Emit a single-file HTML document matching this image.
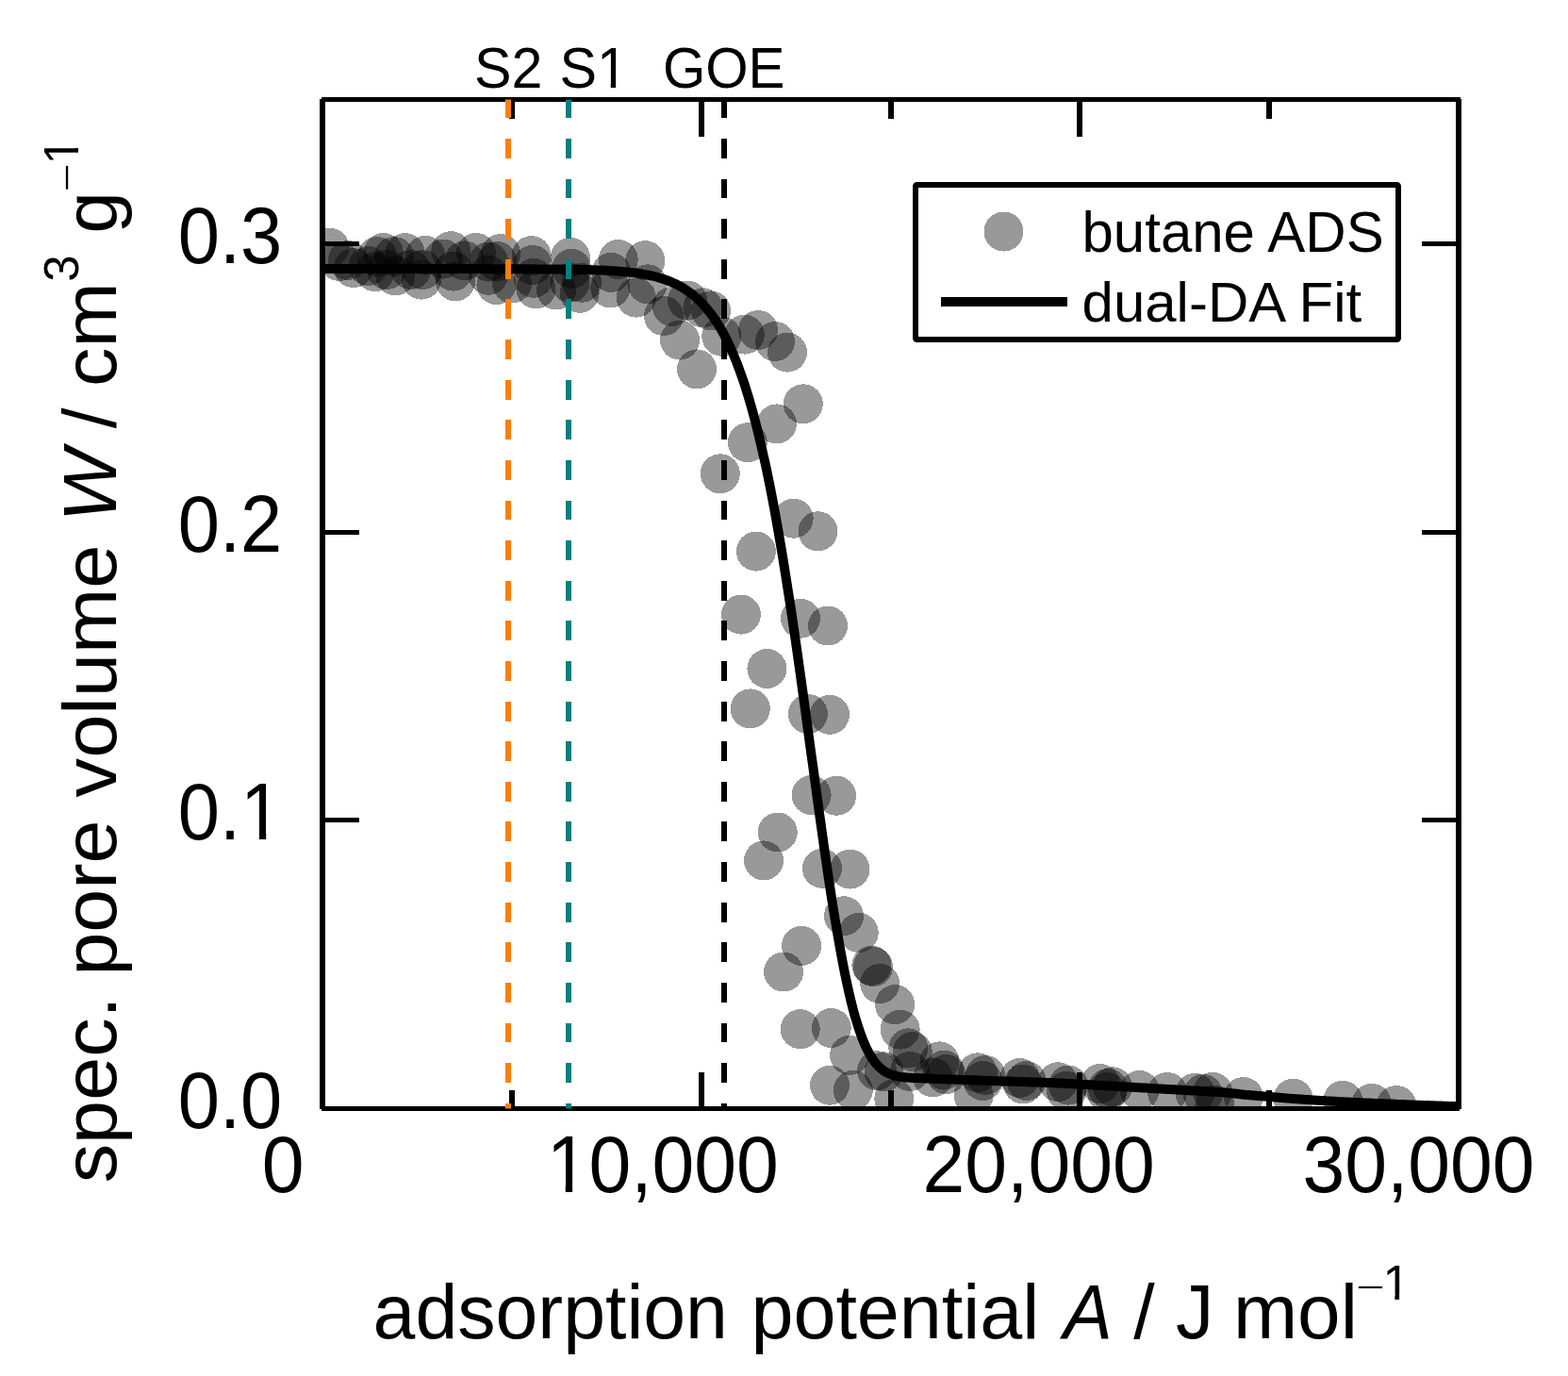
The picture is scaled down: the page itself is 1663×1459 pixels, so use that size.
<!DOCTYPE html>
<html><head><meta charset="utf-8"><title>dual-DA fit</title><style>
html,body{margin:0;padding:0;background:#fff;}
svg{display:block;}
text{font-family:"Liberation Sans", Arial, Helvetica, sans-serif;font-size:100px;fill:#000;}
</style></head><body>
<svg width="1663" height="1459" viewBox="0 0 1663 1459">
<rect x="0" y="0" width="1663" height="1459" fill="#fff"/>
<defs><clipPath id="ax"><rect x="342" y="105.5" width="1205" height="1070"/></clipPath></defs>

<g clip-path="url(#ax)">
<g fill="#000" fill-opacity="0.4" shape-rendering="crispEdges">
<circle cx="349.6" cy="262.6" r="21.0"/>
<circle cx="360.0" cy="277.0" r="21.0"/>
<circle cx="369.0" cy="276.0" r="21.0"/>
<circle cx="375.0" cy="284.0" r="21.0"/>
<circle cx="390.5" cy="282.0" r="21.0"/>
<circle cx="397.7" cy="288.2" r="21.0"/>
<circle cx="400.0" cy="272.0" r="21.0"/>
<circle cx="406.7" cy="268.0" r="21.0"/>
<circle cx="410.0" cy="286.0" r="21.0"/>
<circle cx="418.0" cy="272.0" r="21.0"/>
<circle cx="419.4" cy="292.4" r="21.0"/>
<circle cx="429.6" cy="268.2" r="21.0"/>
<circle cx="436.0" cy="286.0" r="21.0"/>
<circle cx="447.0" cy="296.6" r="21.0"/>
<circle cx="448.0" cy="286.0" r="21.0"/>
<circle cx="451.0" cy="270.7" r="21.0"/>
<circle cx="470.0" cy="274.6" r="21.0"/>
<circle cx="478.3" cy="266.2" r="21.0"/>
<circle cx="480.7" cy="287.6" r="21.0"/>
<circle cx="483.0" cy="298.4" r="21.0"/>
<circle cx="492.7" cy="276.4" r="21.0"/>
<circle cx="504.8" cy="268.0" r="21.0"/>
<circle cx="518.0" cy="277.6" r="21.0"/>
<circle cx="518.0" cy="291.8" r="21.0"/>
<circle cx="526.4" cy="302.0" r="21.0"/>
<circle cx="531.0" cy="269.0" r="21.0"/>
<circle cx="527.2" cy="277.0" r="21.0"/>
<circle cx="543.0" cy="300.5" r="21.0"/>
<circle cx="563.6" cy="271.2" r="21.0"/>
<circle cx="564.7" cy="280.9" r="21.0"/>
<circle cx="565.9" cy="294.8" r="21.0"/>
<circle cx="568.4" cy="306.4" r="21.0"/>
<circle cx="590.0" cy="307.5" r="21.0"/>
<circle cx="604.9" cy="272.9" r="21.0"/>
<circle cx="606.3" cy="284.9" r="21.0"/>
<circle cx="604.5" cy="299.7" r="21.0"/>
<circle cx="614.6" cy="310.8" r="21.0"/>
<circle cx="617.0" cy="299.7" r="21.0"/>
<circle cx="655.7" cy="275.0" r="21.0"/>
<circle cx="684.3" cy="276.2" r="21.0"/>
<circle cx="648.3" cy="288.9" r="21.0"/>
<circle cx="686.8" cy="301.3" r="21.0"/>
<circle cx="647.3" cy="305.5" r="21.0"/>
<circle cx="674.8" cy="315.6" r="21.0"/>
<circle cx="704.0" cy="335.0" r="21.0"/>
<circle cx="712.7" cy="324.9" r="21.0"/>
<circle cx="729.1" cy="318.6" r="21.0"/>
<circle cx="745.4" cy="326.3" r="21.0"/>
<circle cx="754.0" cy="329.4" r="21.0"/>
<circle cx="721.0" cy="360.6" r="21.0"/>
<circle cx="739.0" cy="391.4" r="21.0"/>
<circle cx="765.3" cy="356.6" r="21.0"/>
<circle cx="789.8" cy="354.6" r="21.0"/>
<circle cx="804.0" cy="350.0" r="21.0"/>
<circle cx="822.0" cy="362.0" r="21.0"/>
<circle cx="835.0" cy="373.6" r="21.0"/>
<circle cx="851.8" cy="428.3" r="21.0"/>
<circle cx="823.9" cy="449.4" r="21.0"/>
<circle cx="792.8" cy="469.2" r="21.0"/>
<circle cx="763.8" cy="502.3" r="21.0"/>
<circle cx="841.7" cy="549.7" r="21.0"/>
<circle cx="867.5" cy="563.3" r="21.0"/>
<circle cx="801.9" cy="584.6" r="21.0"/>
<circle cx="785.9" cy="651.6" r="21.0"/>
<circle cx="849.0" cy="655.7" r="21.0"/>
<circle cx="878.0" cy="663.5" r="21.0"/>
<circle cx="813.4" cy="709.0" r="21.0"/>
<circle cx="795.8" cy="751.4" r="21.0"/>
<circle cx="856.9" cy="757.0" r="21.0"/>
<circle cx="880.0" cy="757.8" r="21.0"/>
<circle cx="860.6" cy="843.0" r="21.0"/>
<circle cx="887.1" cy="843.7" r="21.0"/>
<circle cx="824.8" cy="882.5" r="21.0"/>
<circle cx="810.0" cy="912.4" r="21.0"/>
<circle cx="872.0" cy="920.8" r="21.0"/>
<circle cx="901.5" cy="921.6" r="21.0"/>
<circle cx="895.0" cy="971.2" r="21.0"/>
<circle cx="910.7" cy="988.9" r="21.0"/>
<circle cx="850.1" cy="1002.9" r="21.0"/>
<circle cx="831.1" cy="1030.5" r="21.0"/>
<circle cx="924.4" cy="1023.8" r="21.0"/>
<circle cx="926.0" cy="1025.0" r="21.0"/>
<circle cx="933.2" cy="1043.0" r="21.0"/>
<circle cx="949.1" cy="1065.1" r="21.0"/>
<circle cx="954.7" cy="1091.6" r="21.0"/>
<circle cx="963.3" cy="1111.3" r="21.0"/>
<circle cx="967.7" cy="1115.1" r="21.0"/>
<circle cx="848.7" cy="1091.2" r="21.0"/>
<circle cx="881.7" cy="1090.0" r="21.0"/>
<circle cx="901.1" cy="1118.9" r="21.0"/>
<circle cx="880.0" cy="1150.7" r="21.0"/>
<circle cx="904.8" cy="1156.0" r="21.0"/>
<circle cx="930.1" cy="1135.2" r="21.0"/>
<circle cx="937.5" cy="1136.4" r="21.0"/>
<circle cx="965.0" cy="1136.0" r="21.0"/>
<circle cx="948.3" cy="1165.0" r="21.0"/>
<circle cx="996.5" cy="1125.4" r="21.0"/>
<circle cx="1001.2" cy="1134.6" r="21.0"/>
<circle cx="989.3" cy="1142.4" r="21.0"/>
<circle cx="1003.4" cy="1139.1" r="21.0"/>
<circle cx="1037.0" cy="1137.3" r="21.0"/>
<circle cx="1045.0" cy="1140.0" r="21.0"/>
<circle cx="1042.4" cy="1146.0" r="21.0"/>
<circle cx="1032.6" cy="1161.2" r="21.0"/>
<circle cx="1081.5" cy="1143.0" r="21.0"/>
<circle cx="1088.5" cy="1146.0" r="21.0"/>
<circle cx="1085.0" cy="1149.5" r="21.0"/>
<circle cx="1122.0" cy="1147.2" r="21.0"/>
<circle cx="1133.0" cy="1150.6" r="21.0"/>
<circle cx="1131.0" cy="1157.0" r="21.0"/>
<circle cx="1166.7" cy="1149.0" r="21.0"/>
<circle cx="1175.0" cy="1154.0" r="21.0"/>
<circle cx="1180.0" cy="1152.3" r="21.0"/>
<circle cx="1174.0" cy="1158.0" r="21.0"/>
<circle cx="1208.6" cy="1156.0" r="21.0"/>
<circle cx="1238.0" cy="1158.0" r="21.0"/>
<circle cx="1267.4" cy="1158.9" r="21.0"/>
<circle cx="1275.8" cy="1160.0" r="21.0"/>
<circle cx="1286.3" cy="1157.9" r="21.0"/>
<circle cx="1288.4" cy="1171.6" r="21.0"/>
<circle cx="1318.9" cy="1163.1" r="21.0"/>
<circle cx="1371.5" cy="1164.8" r="21.0"/>
<circle cx="1424.2" cy="1166.9" r="21.0"/>
<circle cx="1454.7" cy="1169.9" r="21.0"/>
<circle cx="1481.0" cy="1172.0" r="21.0"/>
</g>
<path d="M342.0,285.0 L344.0,285.0 L346.0,285.0 L348.0,285.0 L350.0,285.0 L352.0,285.0 L354.1,285.0 L356.1,285.0 L358.1,285.0 L360.1,285.0 L362.1,285.0 L364.1,285.0 L366.1,285.0 L368.1,285.0 L370.1,285.0 L372.1,285.0 L374.1,285.0 L376.1,285.0 L378.1,285.0 L380.2,285.0 L382.2,285.0 L384.2,285.0 L386.2,285.0 L388.2,285.0 L390.2,285.0 L392.2,285.0 L394.2,285.0 L396.2,285.0 L398.2,285.0 L400.2,285.0 L402.2,285.0 L404.3,285.0 L406.3,285.0 L408.3,285.0 L410.3,285.0 L412.3,285.0 L414.3,285.0 L416.3,285.0 L418.3,285.0 L420.3,285.0 L422.3,285.0 L424.3,285.0 L426.4,285.0 L428.4,285.0 L430.4,285.0 L432.4,285.0 L434.4,285.0 L436.4,285.0 L438.4,285.0 L440.4,285.0 L442.4,285.0 L444.4,285.0 L446.4,285.0 L448.4,285.0 L450.4,285.0 L452.5,285.0 L454.5,285.0 L456.5,285.0 L458.5,285.0 L460.5,285.0 L462.5,285.0 L464.5,285.0 L466.5,285.0 L468.5,285.1 L470.5,285.1 L472.5,285.1 L474.6,285.1 L476.6,285.1 L478.6,285.1 L480.6,285.1 L482.6,285.1 L484.6,285.1 L486.6,285.1 L488.6,285.1 L490.6,285.1 L492.6,285.1 L494.6,285.1 L496.6,285.1 L498.6,285.1 L500.7,285.1 L502.7,285.1 L504.7,285.1 L506.7,285.1 L508.7,285.1 L510.7,285.1 L512.7,285.1 L514.7,285.1 L516.7,285.1 L518.7,285.1 L520.7,285.2 L522.8,285.2 L524.8,285.2 L526.8,285.2 L528.8,285.2 L530.8,285.2 L532.8,285.2 L534.8,285.2 L536.8,285.2 L538.8,285.2 L540.8,285.2 L542.8,285.2 L544.8,285.2 L546.9,285.2 L548.9,285.3 L550.9,285.3 L552.9,285.3 L554.9,285.3 L556.9,285.3 L558.9,285.3 L560.9,285.3 L562.9,285.3 L564.9,285.3 L566.9,285.3 L568.9,285.4 L571.0,285.4 L573.0,285.4 L575.0,285.4 L577.0,285.4 L579.0,285.4 L581.0,285.4 L583.0,285.5 L585.0,285.5 L587.0,285.5 L589.0,285.5 L591.0,285.5 L593.0,285.6 L595.0,285.6 L597.1,285.6 L599.1,285.6 L601.1,285.7 L603.1,285.7 L605.1,285.7 L607.1,285.8 L609.1,285.8 L611.1,285.8 L613.1,285.9 L615.1,285.9 L617.1,285.9 L619.2,286.0 L621.2,286.0 L623.2,286.1 L625.2,286.1 L627.2,286.2 L629.2,286.3 L631.2,286.3 L633.2,286.4 L635.2,286.5 L637.2,286.6 L639.2,286.6 L641.2,286.7 L643.2,286.8 L645.3,286.9 L647.3,287.0 L649.3,287.2 L651.3,287.3 L653.3,287.4 L655.3,287.6 L657.3,287.7 L659.3,287.9 L661.3,288.1 L663.3,288.2 L665.3,288.4 L667.4,288.6 L669.4,288.9 L671.4,289.1 L673.4,289.4 L675.4,289.6 L677.4,289.9 L679.4,290.2 L681.4,290.6 L683.4,290.9 L685.4,291.3 L687.4,291.7 L689.4,292.1 L691.5,292.5 L693.5,293.0 L695.5,293.5 L697.5,294.0 L699.5,294.6 L701.5,295.2 L703.5,295.9 L705.5,296.5 L707.5,297.3 L709.5,298.0 L711.5,298.8 L713.5,299.7 L715.5,300.6 L717.6,301.6 L719.6,302.6 L721.6,303.7 L723.6,304.8 L725.6,306.1 L727.6,307.4 L729.6,308.7 L731.6,310.2 L733.6,311.7 L735.6,313.3 L737.6,315.0 L739.7,316.8 L741.7,318.7 L743.7,320.7 L745.7,322.8 L747.7,325.0 L749.7,327.3 L751.7,329.8 L753.7,332.4 L755.7,335.1 L757.7,337.9 L759.7,341.0 L761.7,344.1 L763.8,347.5 L765.8,351.0 L767.8,354.6 L769.8,358.5 L771.8,362.5 L773.8,366.7 L775.8,371.2 L777.8,375.8 L779.8,380.7 L781.8,385.7 L783.8,391.0 L785.8,396.6 L787.9,402.4 L789.9,408.4 L791.9,414.7 L793.9,421.3 L795.9,428.1 L797.9,435.2 L799.9,442.6 L801.9,450.3 L803.9,458.2 L805.9,466.5 L807.9,475.1 L809.9,484.0 L812.0,493.2 L814.0,502.7 L816.0,512.5 L818.0,522.6 L820.0,533.1 L822.0,543.9 L824.0,555.0 L826.0,566.3 L828.0,578.0 L830.0,590.0 L832.0,602.3 L834.0,614.9 L836.0,627.8 L838.1,640.9 L840.1,654.2 L842.1,667.8 L844.1,681.6 L846.1,695.7 L848.1,709.9 L850.1,724.2 L852.1,738.7 L854.1,753.3 L856.1,768.1 L858.1,782.8 L860.1,797.6 L862.2,812.4 L864.2,827.2 L866.2,841.9 L868.2,856.5 L870.2,871.0 L872.2,885.4 L874.2,899.5 L876.2,913.4 L878.2,927.1 L880.2,940.5 L882.2,953.5 L884.2,966.2 L886.3,978.5 L888.3,990.4 L890.3,1001.9 L892.3,1012.9 L894.3,1023.4 L896.3,1033.5 L898.3,1043.0 L900.3,1052.0 L902.3,1060.5 L904.3,1068.5 L906.3,1076.0 L908.4,1082.9 L910.4,1089.3 L912.4,1095.2 L914.4,1100.6 L916.4,1105.6 L918.4,1110.1 L920.4,1114.2 L922.4,1117.9 L924.4,1121.3 L926.4,1124.3 L928.4,1127.0 L930.4,1129.3 L932.5,1131.4 L934.5,1133.2 L936.5,1134.8 L938.5,1136.2 L940.5,1137.3 L942.5,1138.3 L944.5,1139.1 L946.5,1139.8 L948.5,1140.4 L950.5,1140.9 L952.5,1141.3 L954.5,1141.7 L956.5,1142.0 L958.6,1142.2 L960.6,1142.4 L962.6,1142.6 L964.6,1142.7 L966.6,1142.8 L968.6,1142.9 L970.6,1143.0 L972.6,1143.1 L974.6,1143.2 L976.6,1143.3 L978.6,1143.3 L980.6,1143.4 L982.7,1143.5 L984.7,1143.6 L986.7,1143.6 L988.7,1143.7 L990.7,1143.8 L992.7,1143.9 L994.7,1143.9 L996.7,1144.0 L998.7,1144.1 L1000.7,1144.2 L1002.7,1144.2 L1004.8,1144.3 L1006.8,1144.4 L1008.8,1144.5 L1010.8,1144.5 L1012.8,1144.6 L1014.8,1144.7 L1016.8,1144.8 L1018.8,1144.8 L1020.8,1144.9 L1022.8,1145.0 L1024.8,1145.1 L1026.8,1145.1 L1028.8,1145.2 L1030.9,1145.3 L1032.9,1145.4 L1034.9,1145.4 L1036.9,1145.5 L1038.9,1145.6 L1040.9,1145.7 L1042.9,1145.7 L1044.9,1145.8 L1046.9,1145.9 L1048.9,1145.9 L1050.9,1146.0 L1052.9,1146.1 L1055.0,1146.2 L1057.0,1146.2 L1059.0,1146.3 L1061.0,1146.3 L1063.0,1146.4 L1065.0,1146.5 L1067.0,1146.5 L1069.0,1146.6 L1071.0,1146.6 L1073.0,1146.7 L1075.0,1146.7 L1077.0,1146.8 L1079.1,1146.9 L1081.1,1146.9 L1083.1,1147.0 L1085.1,1147.0 L1087.1,1147.1 L1089.1,1147.2 L1091.1,1147.2 L1093.1,1147.3 L1095.1,1147.4 L1097.1,1147.5 L1099.1,1147.5 L1101.2,1147.6 L1103.2,1147.7 L1105.2,1147.7 L1107.2,1147.8 L1109.2,1147.9 L1111.2,1148.0 L1113.2,1148.0 L1115.2,1148.1 L1117.2,1148.2 L1119.2,1148.3 L1121.2,1148.4 L1123.2,1148.5 L1125.2,1148.6 L1127.3,1148.7 L1129.3,1148.8 L1131.3,1148.9 L1133.3,1149.0 L1135.3,1149.1 L1137.3,1149.2 L1139.3,1149.3 L1141.3,1149.5 L1143.3,1149.6 L1145.3,1149.7 L1147.3,1149.8 L1149.3,1149.9 L1151.4,1150.0 L1153.4,1150.1 L1155.4,1150.2 L1157.4,1150.3 L1159.4,1150.5 L1161.4,1150.6 L1163.4,1150.7 L1165.4,1150.8 L1167.4,1150.9 L1169.4,1151.0 L1171.4,1151.1 L1173.4,1151.2 L1175.5,1151.4 L1177.5,1151.5 L1179.5,1151.6 L1181.5,1151.7 L1183.5,1151.8 L1185.5,1151.9 L1187.5,1152.0 L1189.5,1152.1 L1191.5,1152.3 L1193.5,1152.4 L1195.5,1152.5 L1197.5,1152.6 L1199.6,1152.7 L1201.6,1152.8 L1203.6,1152.9 L1205.6,1153.1 L1207.6,1153.2 L1209.6,1153.3 L1211.6,1153.4 L1213.6,1153.5 L1215.6,1153.6 L1217.6,1153.7 L1219.6,1153.9 L1221.7,1154.0 L1223.7,1154.1 L1225.7,1154.2 L1227.7,1154.3 L1229.7,1154.4 L1231.7,1154.5 L1233.7,1154.7 L1235.7,1154.8 L1237.7,1154.9 L1239.7,1155.0 L1241.7,1155.1 L1243.7,1155.2 L1245.8,1155.3 L1247.8,1155.5 L1249.8,1155.6 L1251.8,1155.7 L1253.8,1155.8 L1255.8,1155.9 L1257.8,1156.0 L1259.8,1156.1 L1261.8,1156.3 L1263.8,1156.4 L1265.8,1156.5 L1267.8,1156.6 L1269.8,1156.7 L1271.9,1156.8 L1273.9,1156.9 L1275.9,1157.0 L1277.9,1157.2 L1279.9,1157.3 L1281.9,1157.4 L1283.9,1157.5 L1285.9,1157.6 L1287.9,1157.7 L1289.9,1157.8 L1291.9,1157.9 L1294.0,1158.1 L1296.0,1158.2 L1298.0,1158.4 L1300.0,1158.6 L1302.0,1158.8 L1304.0,1159.0 L1306.0,1159.2 L1308.0,1159.4 L1310.0,1159.6 L1312.0,1159.8 L1314.0,1160.0 L1316.0,1160.2 L1318.1,1160.5 L1320.1,1160.7 L1322.1,1160.9 L1324.1,1161.1 L1326.1,1161.3 L1328.1,1161.5 L1330.1,1161.6 L1332.1,1161.8 L1334.1,1162.0 L1336.1,1162.1 L1338.1,1162.3 L1340.1,1162.5 L1342.2,1162.6 L1344.2,1162.8 L1346.2,1163.0 L1348.2,1163.1 L1350.2,1163.3 L1352.2,1163.5 L1354.2,1163.6 L1356.2,1163.8 L1358.2,1164.0 L1360.2,1164.1 L1362.2,1164.3 L1364.2,1164.4 L1366.2,1164.6 L1368.3,1164.7 L1370.3,1164.9 L1372.3,1165.0 L1374.3,1165.2 L1376.3,1165.3 L1378.3,1165.5 L1380.3,1165.6 L1382.3,1165.7 L1384.3,1165.9 L1386.3,1166.0 L1388.3,1166.1 L1390.3,1166.3 L1392.4,1166.4 L1394.4,1166.5 L1396.4,1166.7 L1398.4,1166.8 L1400.4,1166.9 L1402.4,1167.0 L1404.4,1167.1 L1406.4,1167.3 L1408.4,1167.4 L1410.4,1167.5 L1412.4,1167.6 L1414.5,1167.7 L1416.5,1167.8 L1418.5,1167.9 L1420.5,1168.1 L1422.5,1168.2 L1424.5,1168.3 L1426.5,1168.4 L1428.5,1168.5 L1430.5,1168.6 L1432.5,1168.7 L1434.5,1168.8 L1436.5,1168.9 L1438.5,1169.0 L1440.6,1169.1 L1442.6,1169.2 L1444.6,1169.3 L1446.6,1169.4 L1448.6,1169.5 L1450.6,1169.5 L1452.6,1169.6 L1454.6,1169.7 L1456.6,1169.8 L1458.6,1169.9 L1460.6,1170.0 L1462.7,1170.1 L1464.7,1170.1 L1466.7,1170.2 L1468.7,1170.3 L1470.7,1170.4 L1472.7,1170.5 L1474.7,1170.6 L1476.7,1170.6 L1478.7,1170.7 L1480.7,1170.8 L1482.7,1170.9 L1484.7,1171.0 L1486.8,1171.0 L1488.8,1171.1 L1490.8,1171.2 L1492.8,1171.3 L1494.8,1171.4 L1496.8,1171.4 L1498.8,1171.5 L1500.8,1171.6 L1502.8,1171.7 L1504.8,1171.7 L1506.8,1171.8 L1508.8,1171.9 L1510.8,1172.0 L1512.9,1172.0 L1514.9,1172.1 L1516.9,1172.2 L1518.9,1172.3 L1520.9,1172.3 L1522.9,1172.4 L1524.9,1172.5 L1526.9,1172.5 L1528.9,1172.6 L1530.9,1172.7 L1532.9,1172.7 L1535.0,1172.8 L1537.0,1172.9 L1539.0,1172.9 L1541.0,1173.0 L1543.0,1173.1 L1545.0,1173.1 L1547.0,1173.2" fill="none" stroke="#000" stroke-width="10" stroke-linejoin="round"/>
</g>
<g fill="#000" shape-rendering="crispEdges">
<rect x="339" y="105" width="6" height="1071"/>
<rect x="1544" y="105" width="6" height="1071"/>
<rect x="341" y="103" width="1208" height="5"/>
<rect x="341" y="1173" width="1207" height="5"/>
<rect x="539.8" y="1155.5" width="6" height="20"/>
<rect x="539.8" y="105.5" width="6" height="20"/>
<rect x="740.7" y="1136.5" width="6" height="39"/>
<rect x="740.7" y="105.5" width="6" height="39"/>
<rect x="941.5" y="1155.5" width="6" height="20"/>
<rect x="941.5" y="105.5" width="6" height="20"/>
<rect x="1142.3" y="1136.5" width="6" height="39"/>
<rect x="1142.3" y="105.5" width="6" height="39"/>
<rect x="1343.2" y="1155.5" width="6" height="20"/>
<rect x="1343.2" y="105.5" width="6" height="20"/>
<rect x="342" y="867.3" width="39" height="5"/>
<rect x="1508" y="867.3" width="39" height="5"/>
<rect x="342" y="561.6" width="39" height="5"/>
<rect x="1508" y="561.6" width="39" height="5"/>
<rect x="342" y="255.9" width="39" height="5"/>
<rect x="1508" y="255.9" width="39" height="5"/>
</g>
<g clip-path="url(#ax)" shape-rendering="crispEdges" stroke-width="6" stroke-dasharray="20.9 21.72">
<line x1="539" y1="104.3" x2="539" y2="1177" stroke="#ff7f00"/>
<line x1="603" y1="104.3" x2="603" y2="1177" stroke="#008080"/>
<line x1="768" y1="104.3" x2="768" y2="1177" stroke="#000"/>
</g>
<text transform="translate(277.64,1264.10) scale(0.8050,0.8535)">0</text>
<text transform="translate(579.69,1264.10) scale(0.8050,0.8535)" clip-path="url(#k0)">10,000</text>
<text transform="translate(978.59,1264.10) scale(0.8050,0.8535)">20,000</text>
<text transform="translate(1381.39,1264.10) scale(0.8050,0.8535)">30,000</text>
<text transform="translate(188.80,1196.00) scale(0.7950,0.8535)">0.0</text>
<text transform="translate(188.80,890.29) scale(0.7950,0.8535)" clip-path="url(#k1)">0.1</text>
<text transform="translate(188.80,584.58) scale(0.7950,0.8535)">0.2</text>
<text transform="translate(188.80,278.87) scale(0.7950,0.8535)">0.3</text>
<text transform="translate(502.90,92.90) scale(0.5920,0.6100)">S2</text>
<text transform="translate(593.50,92.90) scale(0.5920,0.6100)" clip-path="url(#k2)">S1</text>
<text transform="translate(702.90,92.90) scale(0.5830,0.6100)">GOE</text>
<text transform="translate(395.60,1419.40) scale(0.8060,0.8080)">adsorption</text>
<text transform="translate(796.40,1419.40) scale(0.8090,0.8080)">potential</text>
<text transform="translate(1127.70,1419.40) scale(0.7800,0.8080)" font-style="italic">A</text>
<text transform="translate(1202.20,1419.40) scale(0.8060,0.8080)">/</text>
<text transform="translate(1247.00,1419.40) scale(0.8060,0.8080)">J</text>
<text transform="translate(1307.90,1419.40) scale(0.8190,0.8080)">mol</text>
<text transform="translate(1438.30,1375.10) scale(0.5200,0.3000)">&#8722;</text>
<text transform="translate(1466.40,1377.90) scale(0.5200,0.5230)" clip-path="url(#k3)">1</text>
<text transform="translate(123.30,1254.30) rotate(-90) scale(0.8280,0.7950)">spec.</text>
<text transform="translate(123.30,1034.60) rotate(-90) scale(0.8250,0.7950)">pore</text>
<text transform="translate(123.30,845.40) rotate(-90) scale(0.8310,0.7950)">volume</text>
<text transform="translate(123.30,553.20) rotate(-90) scale(0.8180,0.7950)" font-style="italic">W</text>
<text transform="translate(123.30,454.30) rotate(-90) scale(0.7800,0.7950)">/</text>
<text transform="translate(123.30,410.10) rotate(-90) scale(0.8310,0.7950)">cm</text>
<text transform="translate(83.10,298.70) rotate(-90) scale(0.5100,0.5100)">3</text>
<text transform="translate(123.30,247.50) rotate(-90) scale(0.8000,0.7950)">g</text>
<text transform="translate(82.10,203.40) rotate(-90) scale(0.5100,0.3300)">&#8722;</text>
<text transform="translate(83.10,174.50) rotate(-90) scale(0.5100,0.5100)" clip-path="url(#k4)">1</text>
<rect x="971" y="196" width="512" height="164" rx="1.5" fill="#fff" stroke="#000" stroke-width="6"/>
<circle cx="1064.5" cy="245.5" r="21" fill="#000" fill-opacity="0.4" shape-rendering="crispEdges"/>
<rect x="998" y="315" width="134" height="10" fill="#000" shape-rendering="crispEdges"/>
<text transform="translate(1147.50,266.70) scale(0.6000,0.6080)">butane ADS</text>
<text transform="translate(1147.60,341.40) scale(0.5996,0.5890)">dual-DA Fit</text>
<defs><clipPath id="k0" clipPathUnits="userSpaceOnUse"><path clip-rule="evenodd" d="M-500,-500 H3000 V500 H-500 Z M5.0,-10 H24.9 V1 H5.0 Z M34.1,-10 H53.0 V1 H34.1 Z"/></clipPath><clipPath id="k1" clipPathUnits="userSpaceOnUse"><path clip-rule="evenodd" d="M-500,-500 H3000 V500 H-500 Z M88.4,-10 H108.3 V1 H88.4 Z M117.5,-10 H136.4 V1 H117.5 Z"/></clipPath><clipPath id="k2" clipPathUnits="userSpaceOnUse"><path clip-rule="evenodd" d="M-500,-500 H3000 V500 H-500 Z M71.7,-10 H91.6 V1 H71.7 Z M100.8,-10 H119.7 V1 H100.8 Z"/></clipPath><clipPath id="k3" clipPathUnits="userSpaceOnUse"><path clip-rule="evenodd" d="M-500,-500 H3000 V500 H-500 Z M5.0,-10 H24.9 V1 H5.0 Z M34.1,-10 H53.0 V1 H34.1 Z"/></clipPath><clipPath id="k4" clipPathUnits="userSpaceOnUse"><path clip-rule="evenodd" d="M-500,-500 H3000 V500 H-500 Z M5.0,-10 H24.9 V1 H5.0 Z M34.1,-10 H53.0 V1 H34.1 Z"/></clipPath></defs>
</svg>
</body></html>
